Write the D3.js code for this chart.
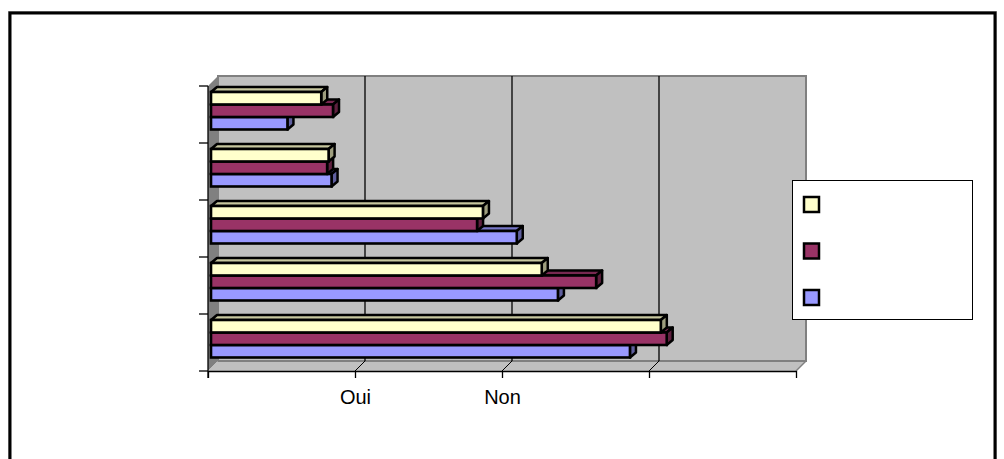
<!DOCTYPE html>
<html>
<head>
<meta charset="utf-8">
<script src="https://cdn.jsdelivr.net/npm/d3@7"></script>
<style>
  html, body { margin: 0; padding: 0; background: #ffffff; }
  svg { display: block; }
</style>
</head>
<body>
<svg id="chart" width="1004" height="459"></svg>
<script>
// Categories listed top to bottom
const categories = ["1", "2", "3", "4", "5"];
// Series keys, drawn top to bottom inside each group
const seriesNames = ["s1", "s2", "s3"];
const seriesLabels = ["", "", ""];
const seriesColors = ["#FFFFCC", "#993366", "#9999FF"];
// Values per series, one per category
const valuesS1 = [0.75, 0.80, 1.85, 2.25, 3.06];
const valuesS2 = [0.83, 0.79, 1.81, 2.62, 3.10];
const valuesS3 = [0.52, 0.82, 2.08, 2.36, 2.85];
// Value-axis tick labels
const tickValues = [0, 1, 2, 3, 4];
const tickLabels = ["", "Oui", "Non", "", ""];

const seriesValues = [valuesS1, valuesS2, valuesS3];

const svg = d3.select("#chart");

// Chart area frame
svg.append("rect")
  .attr("x", 8.5).attr("y", 11.5).attr("width", 988).attr("height", 460)
  .attr("fill", "none").attr("stroke", "#a0a0a0").attr("stroke-width", 1);
svg.append("rect")
  .attr("x", 10).attr("y", 13).attr("width", 985).attr("height", 460)
  .attr("fill", "#ffffff").attr("stroke", "#000000").attr("stroke-width", 3);

// Plot geometry: front plane and depth offset of the walls
const plotLeft = 208, plotRight = 796, plotTop = 86, plotBottom = 371;
const ddx = 10, ddy = -10;

const x = d3.scaleLinear().domain([0, 4]).range([plotLeft, plotRight]);
const y = d3.scaleBand().domain(categories).range([plotTop, plotBottom]);
const band = y.bandwidth();
const inner = d3.scaleBand().domain(seriesNames).range([band * 0.105, band * 0.763]);

const pts = arr => arr.map(p => p.join(",")).join(" ");
const g = svg.append("g");

// Back wall
g.append("rect")
  .attr("x", plotLeft + ddx).attr("y", plotTop + ddy)
  .attr("width", plotRight - plotLeft).attr("height", plotBottom - plotTop)
  .attr("fill", "#C0C0C0").attr("stroke", "#808080").attr("stroke-width", 2);

// Side wall
g.append("polygon")
  .attr("points", pts([[plotLeft, plotTop], [plotLeft + ddx, plotTop + ddy], [plotLeft + ddx, plotBottom + ddy], [plotLeft, plotBottom]]))
  .attr("fill", "#808080");

// Floor
g.append("polygon")
  .attr("points", pts([[plotLeft, plotBottom], [plotRight, plotBottom], [plotRight + ddx, plotBottom + ddy], [plotLeft + ddx, plotBottom + ddy]]))
  .attr("fill", "#C0C0C0");
g.append("line")
  .attr("x1", plotLeft + ddx).attr("x2", plotRight + ddx)
  .attr("y1", plotBottom + ddy).attr("y2", plotBottom + ddy)
  .attr("stroke", "#808080").attr("stroke-width", 2);
g.append("line")
  .attr("x1", plotRight).attr("x2", plotRight + ddx)
  .attr("y1", plotBottom).attr("y2", plotBottom + ddy)
  .attr("stroke", "#808080").attr("stroke-width", 1.5);

// Gridlines on the back wall
const inside = tickValues.filter(v => v > 0 && v < 4);
g.selectAll(".grid").data(inside).join("line")
  .attr("class", "grid")
  .attr("x1", d => x(d) + ddx).attr("x2", d => x(d) + ddx)
  .attr("y1", plotTop + ddy).attr("y2", plotBottom + ddy)
  .attr("stroke", "#000000").attr("stroke-width", 1.3);

// Floor gridlines running through the depth
g.selectAll(".floorgrid").data(inside).join("line")
  .attr("class", "floorgrid")
  .attr("x1", d => x(d)).attr("x2", d => x(d) + ddx)
  .attr("y1", plotBottom).attr("y2", plotBottom + ddy)
  .attr("stroke", "#000000").attr("stroke-width", 1);

// Value axis
const xAxis = d3.axisBottom(x)
  .tickValues(tickValues)
  .tickFormat((d, i) => tickLabels[i])
  .tickSizeInner(7).tickSizeOuter(0).tickPadding(12);
const xg = g.append("g").attr("transform", `translate(0,${plotBottom})`).call(xAxis);
xg.select(".domain").attr("stroke", "#000000").attr("stroke-width", 1.3);
xg.selectAll(".tick line").attr("stroke", "#000000").attr("stroke-width", 1.3);
xg.selectAll(".tick text")
  .attr("font-family", "'Liberation Sans', Arial, sans-serif")
  .attr("font-size", 20).attr("fill", "#000000");

// Category axis
const catTicks = categories.map(c => y(c)).concat([plotBottom]);
g.append("line")
  .attr("x1", plotLeft).attr("x2", plotLeft)
  .attr("y1", plotTop).attr("y2", plotBottom + 7)
  .attr("stroke", "#000000").attr("stroke-width", 1.3);
g.selectAll(".ctick").data(catTicks).join("line")
  .attr("class", "ctick")
  .attr("x1", plotLeft - 9).attr("x2", plotLeft)
  .attr("y1", d => d).attr("y2", d => d)
  .attr("stroke", "#000000").attr("stroke-width", 1.3);

// 3D bars: front face, top face, right face
const bdx = 6, bdy = -5;   // bar depth
const bshift = 3;          // bars sit slightly behind the front plane

const shade = (c, k) => {
  const col = d3.rgb(c);
  return d3.rgb(col.r * k, col.g * k, col.b * k).formatHex();
};

const bars = [];
categories.forEach((c, ci) => {
  seriesNames.forEach((s, si) => {
    bars.push({ c, ci, s, si, v: seriesValues[si][ci], color: seriesColors[si] });
  });
});
// Paint the lowest group first, and within a group the lowest bar first
bars.sort((a, b) => (b.ci - a.ci) || (b.si - a.si));

const barG = g.append("g");
bars.forEach(d => {
  const x0 = x(0) + bshift;
  const x1 = x(d.v) + bshift;
  const y0 = y(d.c) + inner(d.s);
  const h = inner.bandwidth();
  const bg = barG.append("g");
  // top face
  bg.append("polygon")
    .attr("points", pts([[x0, y0], [x0 + bdx, y0 + bdy], [x1 + bdx, y0 + bdy], [x1, y0]]))
    .attr("fill", shade(d.color, 0.78)).attr("stroke", "#000000").attr("stroke-width", 2.5).attr("stroke-linejoin", "round");
  // right face
  bg.append("polygon")
    .attr("points", pts([[x1, y0], [x1 + bdx, y0 + bdy], [x1 + bdx, y0 + h + bdy], [x1, y0 + h]]))
    .attr("fill", shade(d.color, 0.62)).attr("stroke", "#000000").attr("stroke-width", 2.5).attr("stroke-linejoin", "round");
  // front face
  bg.append("rect")
    .attr("x", x0).attr("y", y0).attr("width", x1 - x0).attr("height", h)
    .attr("fill", d.color).attr("stroke", "#000000").attr("stroke-width", 2.6);
});

// Legend
const legend = svg.append("g").attr("transform", "translate(792,180)");
legend.append("rect")
  .attr("x", 0.5).attr("y", 0.5).attr("width", 180).attr("height", 139)
  .attr("fill", "#ffffff").attr("stroke", "#000000").attr("stroke-width", 1);
const items = legend.selectAll(".item").data(seriesNames).join("g")
  .attr("class", "item")
  .attr("transform", (d, i) => `translate(12,${17 + i * 46.5})`);
items.append("rect")
  .attr("x", 0).attr("y", 0).attr("width", 15).attr("height", 15)
  .attr("fill", (d, i) => seriesColors[i]).attr("stroke", "#000000").attr("stroke-width", 2.5);
items.append("text")
  .attr("x", 26).attr("y", 13)
  .attr("font-family", "'Liberation Sans', Arial, sans-serif")
  .attr("font-size", 16)
  .text((d, i) => seriesLabels[i]);
</script>
</body>
</html>
